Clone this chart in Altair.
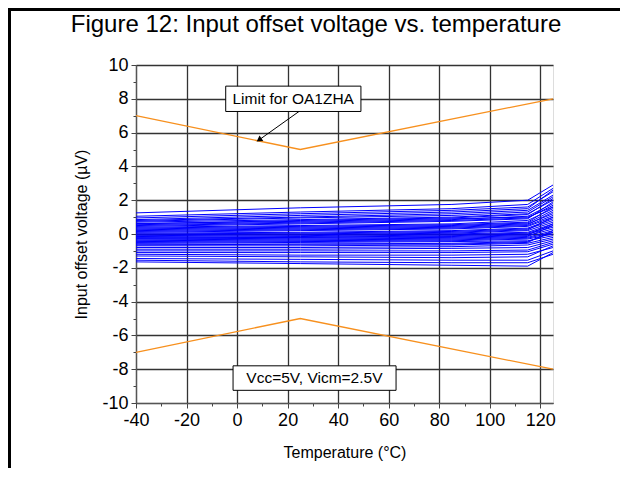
import altair as alt
import pandas as pd

# Measurement temperatures (°C)
temps = [-40, 25, 85, 115, 125]

# Offset voltage per unit (µV) at each temperature
v_m40 = [1.25, 1.05, 0.95, 0.85, 0.80, 0.75, 0.70, 0.60, 0.55, 0.50, 0.45, 0.40, 0.35, 0.30, 0.25,
         0.20, 0.15, 0.10, 0.05, 0.00, -0.05, -0.10, -0.15, -0.20, -0.25, -0.30, -0.35, -0.40, -0.45, -0.50,
         -0.55, -0.60, -0.70, -0.80, -0.90, -1.00, -1.10, -1.20, -1.30, -1.45, -1.55, -1.65, -0.65, 0.62, -0.25]
v_25 = [1.55, 1.30, 1.20, 1.10, 1.00, 0.95, 0.85, 0.80, 0.70, 0.65, 0.60, 0.50, 0.45, 0.40, 0.35,
        0.30, 0.25, 0.20, 0.10, 0.05, 0.00, -0.05, -0.10, -0.15, -0.20, -0.25, -0.30, -0.35, -0.40, -0.45,
        -0.50, -0.60, -0.70, -0.80, -0.90, -1.00, -1.10, -1.25, -1.35, -1.50, -1.65, -1.75, -0.60, 0.75, -0.20]
v_85 = [1.75, 1.50, 1.40, 1.30, 1.20, 1.10, 1.00, 0.95, 0.85, 0.80, 0.75, 0.60, 0.55, 0.50, 0.45,
        0.40, 0.35, 0.30, 0.20, 0.15, 0.10, 0.05, 0.00, -0.05, -0.10, -0.20, -0.25, -0.30, -0.35, -0.40,
        -0.45, -0.55, -0.65, -0.75, -0.85, -1.00, -1.10, -1.25, -1.40, -1.55, -1.70, -1.85, -0.60, 0.90, -0.15]
v_115 = [2.00, 1.75, 1.60, 1.50, 1.40, 1.30, 1.20, 1.15, 1.05, 0.95, 0.90, 0.80, 0.70, 0.65, 0.60,
         0.55, 0.50, 0.45, 0.35, 0.30, 0.25, 0.20, 0.10, 0.05, 0.00, -0.10, -0.15, -0.20, -0.25, -0.30,
         -0.40, -0.45, -0.55, -0.65, -0.80, -0.95, -1.05, -1.20, -1.35, -1.55, -1.70, -1.90, -0.50, 1.00, -0.05]
v_125 = [2.90, 2.70, 2.50, 2.60, 2.30, 2.20, 2.00, 2.10, 1.80, 1.70, 1.90, 1.50, 1.60, 1.40, 1.20,
         1.30, 1.10, 1.00, 0.90, 0.80, 1.00, 0.70, 0.60, 0.50, 0.40, 0.30, 0.50, 0.20, 0.10, 0.00,
         -0.10, 0.10, -0.20, -0.30, -0.40, -0.50, -0.60, -0.80, -0.70, -1.00, -1.20, -1.10, 0.20, 1.60, 0.60]

# Limit lines
limit_t = [-40, 25, 125]
limit_hi = [7, 5, 8]
limit_lo = [-7, -5, -8]

# Axis ticks
x_ticks = list(range(-40, 121, 10))
y_ticks = list(range(-10, 11, 1))

series = [v_m40, v_25, v_85, v_115, v_125]
rows = []
for i in range(len(v_m40)):
    for t, s in zip(temps, series):
        rows.append({"unit": i, "t": t, "v": s[i]})
df = pd.DataFrame(rows)

lim_rows = []
for t, h, l in zip(limit_t, limit_hi, limit_lo):
    lim_rows.append({"which": "hi", "t": t, "v": h})
    lim_rows.append({"which": "lo", "t": t, "v": l})
lim = pd.DataFrame(lim_rows)

FONT = "Liberation Sans"
GRID = "#333333"

xscale = alt.Scale(domain=[-40, 125], nice=False, zero=False)
yscale = alt.Scale(domain=[-10, 10], nice=False, zero=False)

xaxis = alt.Axis(
    values=x_ticks, tickCount=100,
    labelExpr="datum.value % 20 == 0 ? '' + datum.value : ''",
    title="Temperature (°C)",
    titleFont=FONT, titleFontSize=16, titleFontWeight="normal", titleColor="black", titlePadding=15,
    labelFont=FONT, labelFontSize=18, labelColor="black", labelPadding=3,
    grid=True,
    gridOpacity={"condition": {"test": "datum.value % 20 == 0", "value": 1}, "value": 0},
    gridColor=GRID, gridWidth=1.3,
    tickSize={"condition": {"test": "datum.value % 20 == 0", "value": 5}, "value": 3},
    tickColor="#444", domainColor="#555", domainWidth=1.2,
    labelFlush=False, labelOverlap=False,
)
yaxis = alt.Axis(
    values=y_ticks, tickCount=100,
    labelExpr="datum.value % 2 == 0 ? '' + datum.value : ''",
    title="Input offset voltage (µV)",
    titleFont=FONT, titleFontSize=16, titleFontWeight="normal", titleColor="black", titlePadding=12,
    labelFont=FONT, labelFontSize=18, labelColor="black", labelPadding=3,
    grid=True,
    gridOpacity={"condition": {"test": "datum.value % 2 == 0", "value": 1}, "value": 0},
    gridColor=GRID, gridWidth=1.3,
    tickSize={"condition": {"test": "datum.value % 2 == 0", "value": 5}, "value": 3},
    tickColor="#444", domainColor="#555", domainWidth=1.2,
    labelFlush=False, labelOverlap=False,
)

lines = alt.Chart(df).mark_line(color="#0000ff", strokeWidth=1, clip=True).encode(
    x=alt.X("t:Q", scale=xscale, axis=xaxis),
    y=alt.Y("v:Q", scale=yscale, axis=yaxis),
    detail="unit:N",
)

limits = alt.Chart(lim).mark_line(color="#f7901e", strokeWidth=1.3).encode(
    x=alt.X("t:Q", scale=xscale),
    y=alt.Y("v:Q", scale=yscale),
    detail="which:N",
)

# Annotation boxes and labels
box_df = pd.DataFrame({
    "x1": [-4.5, -1.6], "x2": [49.0, 62.9],
    "y1": [8.75, -7.8], "y2": [7.25, -9.25],
})
boxes = alt.Chart(box_df).mark_rect(fill="white", stroke="black", strokeWidth=1).encode(
    x=alt.X("x1:Q", scale=xscale), x2="x2:Q",
    y=alt.Y("y1:Q", scale=yscale), y2="y2:Q",
)
lab_df = pd.DataFrame({
    "x": [22.2, 30.6], "y": [8.0, -8.52],
    "txt": ["Limit for OA1ZHA", "Vcc=5V, Vicm=2.5V"],
})
labels = alt.Chart(lab_df).mark_text(font=FONT, fontSize=15.5, color="black",
                                     align="center", baseline="middle").encode(
    x=alt.X("x:Q", scale=xscale), y=alt.Y("y:Q", scale=yscale), text="txt:N",
)

arrow_df = pd.DataFrame({"x": [24.5], "y": [7.25], "x2": [9.0], "y2": [5.6]})
arrow_line = alt.Chart(arrow_df).mark_rule(color="black", strokeWidth=1).encode(
    x=alt.X("x:Q", scale=xscale), y=alt.Y("y:Q", scale=yscale), x2="x2:Q", y2="y2:Q",
)
arrow_head = alt.Chart(arrow_df).mark_point(shape="triangle", filled=True, color="black",
                                            size=45, angle=235, opacity=1).encode(
    x=alt.X("x2:Q", scale=xscale), y=alt.Y("y2:Q", scale=yscale),
)

title = alt.Chart(alt.Data(values=[{"t": "Figure 12: Input offset voltage vs. temperature"}])).mark_text(
    font=FONT, fontSize=24, color="black", align="center", baseline="alphabetic"
).encode(x=alt.value(180), y=alt.value(-33), text="t:N")

frame = alt.Chart(alt.Data(values=[{}])).mark_rect(fill=None, stroke="black", strokeWidth=3).encode(
    x=alt.value(-126.5), x2=alt.value(520), y=alt.value(-55.5), y2=alt.value(470),
)

chart = alt.layer(
    lines, limits, boxes, labels, arrow_line, arrow_head, title, frame
).properties(
    width=417, height=338,
    autosize=alt.AutoSizeParams(type="none"),
    padding={"left": 128, "top": 57, "right": 67, "bottom": 65},
).configure_view(stroke="#555", strokeWidth=1.2).configure(background="white")

chart.save("out.html", embed_options={"renderer": "svg", "actions": False})
